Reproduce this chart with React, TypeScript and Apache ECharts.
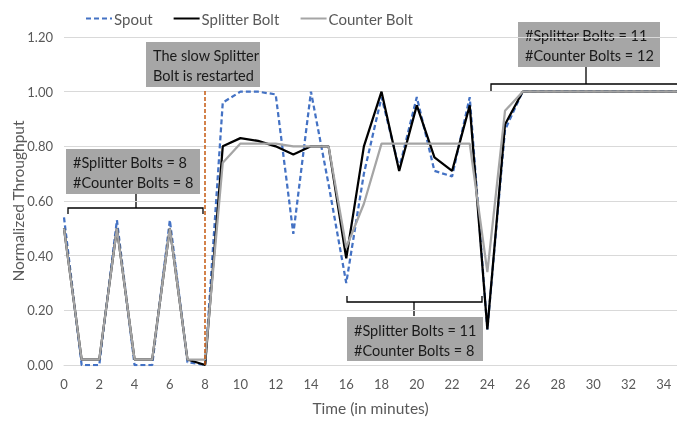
import React, { useEffect, useRef } from "react";
import * as echarts from "echarts";

const times = Array.from({ length: 36 }, (_, i) => i);
const spout = [0.54, 0, 0, 0.53, 0, 0, 0.53, 0.01, 0, 0.96, 1.0, 1.0, 0.99, 0.48, 1.0, 0.66, 0.3, 0.7, 0.98, 0.72, 0.98, 0.71, 0.69, 0.98, 0.13, 0.86, 1.0, 1.0, 1.0, 1.0, 1.0, 1.0, 1.0, 1.0, 1.0, 1.0];
const splitter = [0.5, 0.02, 0.02, 0.5, 0.02, 0.02, 0.5, 0.02, 0.0, 0.8, 0.83, 0.82, 0.8, 0.77, 0.8, 0.8, 0.39, 0.8, 1.0, 0.71, 0.95, 0.76, 0.71, 0.95, 0.13, 0.88, 1.0, 1.0, 1.0, 1.0, 1.0, 1.0, 1.0, 1.0, 1.0, 1.0];
const counter = [0.5, 0.02, 0.02, 0.5, 0.02, 0.02, 0.5, 0.02, 0.02, 0.74, 0.81, 0.81, 0.81, 0.8, 0.8, 0.8, 0.43, 0.59, 0.81, 0.81, 0.81, 0.81, 0.81, 0.81, 0.34, 0.93, 1.0, 1.0, 1.0, 1.0, 1.0, 1.0, 1.0, 1.0, 1.0, 1.0];
const seriesNames = ["Spout", "Splitter Bolt", "Counter Bolt"];
const yAxisTitle = "Normalized Throughput";
const xAxisTitle = "Time (in minutes)";
const restartTime = 8;
const restartLabel = "The slow Splitter\nBolt is restarted";
const box1Label = "#Splitter Bolts = 8\n#Counter Bolts = 8";
const box2Label = "#Splitter Bolts = 11\n#Counter Bolts = 8";
const box3Label = "#Splitter Bolts = 11\n#Counter Bolts = 12";

const FONT = "Lato";
const BOX_FILL = "#A6A6A6";

function box(x: number, y: number, w: number, h: number, text: string) {
  return {
    type: "group",
    children: [
      { type: "rect", shape: { x, y, width: w, height: h }, style: { fill: BOX_FILL } },
      {
        type: "text",
        x: x + 7,
        y: y + 3,
        style: { text, fill: "#1a1a1a", font: `14.5px ${FONT}`, lineHeight: 20 },
      },
    ],
  };
}

const bracketStyle = { stroke: "#000", lineWidth: 1.3, fill: "none" };

export default function App() {
  const ref = useRef<HTMLDivElement>(null);
  useEffect(() => {
    const chart = echarts.init(ref.current!, null, { renderer: "svg" });
    const mk = (arr: number[]) => times.map((t, i) => [t, arr[i]]);
    chart.setOption({
      animation: false,
      textStyle: { fontFamily: FONT },
      legend: {
        left: 80,
        top: 6,
        itemWidth: 26,
        itemHeight: 10,
        itemGap: 20,
        itemStyle: { opacity: 0 },
        textStyle: { fontSize: 15, color: "#595959", fontFamily: FONT, padding: [0, 0, 0, -3] },
        data: seriesNames,
      },
      grid: { left: 64, right: 0, top: 37, bottom: 56, outerBoundsMode: "none", containLabel: false },
      xAxis: {
        type: "value",
        min: 0,
        max: 34.75,
        interval: 2,
        name: xAxisTitle,
        nameLocation: "middle",
        nameGap: 35,
        nameTextStyle: { fontSize: 15.5, color: "#595959", fontFamily: FONT },
        axisLine: { lineStyle: { color: "#D9D9D9" } },
        axisTick: { show: false },
        splitLine: { show: false },
        axisLabel: { color: "#595959", fontSize: 13, fontFamily: FONT, margin: 12 },
      },
      yAxis: {
        type: "value",
        min: 0,
        max: 1.2,
        interval: 0.2,
        axisLine: { show: false },
        axisTick: { show: false },
        splitLine: { lineStyle: { color: "#D9D9D9" } },
        axisLabel: { color: "#595959", fontSize: 13, fontFamily: FONT, margin: 11, formatter: (v: number) => v.toFixed(2) },
      },
      series: [
        {
          name: seriesNames[0],
          type: "line",
          data: mk(spout),
          symbol: "none",
          lineStyle: { color: "#4472C4", width: 2.25, type: [5, 3] },
          itemStyle: { color: "#4472C4" },
          markLine: {
            silent: true,
            symbol: "none",
            label: { show: false },
            lineStyle: { color: "#C55A11", type: [4, 2], width: 1.5 },
            data: [[{ coord: [restartTime, 0] }, { coord: [restartTime, 1.01] }]],
          },
        },
        {
          name: seriesNames[1],
          type: "line",
          data: mk(splitter),
          symbol: "none",
          lineStyle: { color: "#000000", width: 2.25 },
          itemStyle: { color: "#000000" },
        },
        {
          name: seriesNames[2],
          type: "line",
          data: mk(counter),
          symbol: "none",
          lineStyle: { color: "#A5A5A5", width: 2.25 },
          itemStyle: { color: "#A5A5A5" },
        },
      ],
      graphic: [
        {
          type: "text",
          x: 18,
          y: 201,
          rotation: Math.PI / 2,
          style: { text: yAxisTitle, fill: "#595959", font: `15.5px ${FONT}`, align: "center", verticalAlign: "middle" },
        },
        box(146, 42, 114, 45, restartLabel),
        box(66, 149, 134, 45, box1Label),
        { type: "polyline", shape: { points: [[136, 194], [136, 208]] }, style: bracketStyle },
        { type: "polyline", shape: { points: [[68, 214], [68, 208], [203, 208], [203, 214]] }, style: bracketStyle },
        box(347, 317, 136, 44, box2Label),
        { type: "polyline", shape: { points: [[347, 296], [347, 302], [482, 302], [482, 296]] }, style: bracketStyle },
        { type: "polyline", shape: { points: [[414, 302], [414, 316]] }, style: bracketStyle },
        box(518, 22, 142, 45, box3Label),
        { type: "polyline", shape: { points: [[491, 91], [491, 84], [680, 84]] }, style: bracketStyle },
        { type: "polyline", shape: { points: [[586, 67], [586, 84]] }, style: bracketStyle },
      ],
    });
    return () => chart.dispose();
  }, []);
  return <div ref={ref} style={{ width: 677, height: 421, position: "fixed", left: 0, top: 0 }} />;
}
